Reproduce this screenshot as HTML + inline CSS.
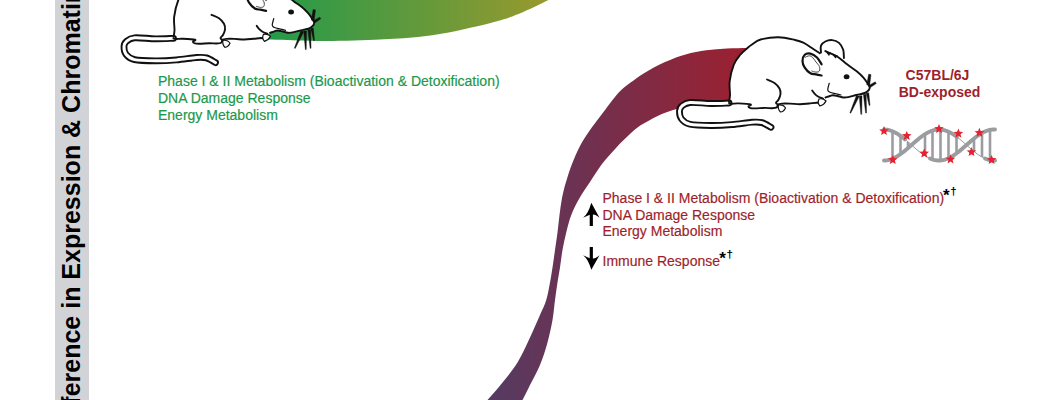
<!DOCTYPE html>
<html><head><meta charset="utf-8">
<style>
html,body{margin:0;padding:0;background:#fff;width:1045px;height:400px;overflow:hidden;}
svg{display:block;}
text{font-family:"Liberation Sans",sans-serif;}
</style></head><body>
<svg width="1045" height="400" viewBox="0 0 1045 400">
<defs>
<linearGradient id="gG" x1="270" y1="0" x2="548" y2="0" gradientUnits="userSpaceOnUse">
<stop offset="0" stop-color="#249a4a"/><stop offset="1" stop-color="#99992e"/>
</linearGradient>
<linearGradient id="gR" x1="490" y1="0" x2="745" y2="0" gradientUnits="userSpaceOnUse">
<stop offset="0" stop-color="#553b63"/><stop offset="1" stop-color="#9c2030"/>
</linearGradient>
</defs>
<rect x="55" y="0" width="34" height="400" fill="#d2d3d6"/>
<text transform="translate(79.5,438) rotate(-90)" font-size="25" font-weight="bold" fill="#000">Difference in Expression &amp; Chromatin</text>
<path d="M240.00 38.50 C245.25 38.68 258.60 39.18 271.50 39.60 C284.40 40.02 300.18 40.97 317.40 41.00 C334.62 41.03 355.65 40.77 374.80 39.80 C393.95 38.83 413.15 37.97 432.30 35.20 C451.45 32.43 475.35 26.73 489.70 23.20 C504.05 19.67 508.60 17.87 518.40 14.00 C528.20 10.13 542.23 3.17 548.50 0.00 C554.77 -3.17 554.75 -4.17 556.00 -5.00 L240 -5 Z" fill="url(#gG)"/>
<path d="M760.00 47.30 C757.92 47.42 753.02 47.80 747.50 48.00 C741.98 48.20 733.77 48.12 726.90 48.50 C720.03 48.88 713.18 49.32 706.30 50.30 C699.42 51.28 692.48 52.45 685.60 54.40 C678.72 56.35 671.87 58.90 665.00 62.00 C658.13 65.10 650.13 69.57 644.40 73.00 C638.67 76.43 634.46 79.77 630.60 82.60 C626.74 85.43 624.27 87.10 621.25 90.00 C618.23 92.90 615.21 96.67 612.50 100.00 C609.79 103.33 607.58 106.58 605.00 110.00 C602.42 113.42 599.67 116.92 597.00 120.50 C594.33 124.08 591.83 127.25 589.00 131.50 C586.17 135.75 582.83 140.58 580.00 146.00 C577.17 151.42 574.33 158.00 572.00 164.00 C569.67 170.00 567.67 176.33 566.00 182.00 C564.33 187.67 563.08 192.50 562.00 198.00 C560.92 203.50 560.25 209.25 559.50 215.00 C558.75 220.75 558.25 226.67 557.50 232.50 C556.75 238.33 555.83 244.17 555.00 250.00 C554.17 255.83 553.33 262.08 552.50 267.50 C551.67 272.92 551.04 277.08 550.00 282.50 C548.96 287.92 547.92 294.58 546.25 300.00 C544.58 305.42 542.71 308.75 540.00 315.00 C537.29 321.25 533.75 329.58 530.00 337.50 C526.25 345.42 522.08 355.00 517.50 362.50 C512.92 370.00 507.50 376.25 502.50 382.50 C497.50 388.75 492.08 395.08 487.50 400.00 C482.92 404.92 477.08 410.00 475.00 412.00 L515.00 412.00 C516.25 410.00 520.00 404.50 522.50 400.00 C525.00 395.50 527.08 390.83 530.00 385.00 C532.92 379.17 537.08 372.08 540.00 365.00 C542.92 357.92 545.42 350.00 547.50 342.50 C549.58 335.00 551.25 327.08 552.50 320.00 C553.75 312.92 554.17 306.25 555.00 300.00 C555.83 293.75 556.67 287.92 557.50 282.50 C558.33 277.08 559.17 272.92 560.00 267.50 C560.83 262.08 561.46 255.83 562.50 250.00 C563.54 244.17 564.79 238.33 566.25 232.50 C567.71 226.67 569.12 220.58 571.25 215.00 C573.38 209.42 575.88 204.50 579.00 199.00 C582.12 193.50 586.17 187.83 590.00 182.00 C593.83 176.17 597.67 169.67 602.00 164.00 C606.33 158.33 612.17 152.21 616.00 148.00 C619.83 143.79 621.42 142.17 625.00 138.75 C628.58 135.33 633.33 130.62 637.50 127.50 C641.67 124.38 645.83 122.29 650.00 120.00 C654.17 117.71 657.92 115.62 662.50 113.75 C667.08 111.88 671.25 110.38 677.50 108.75 C683.75 107.12 691.25 105.46 700.00 104.00 C708.75 102.54 720.00 100.67 730.00 100.00 C740.00 99.33 755.00 100.00 760.00 100.00 Z" fill="url(#gR)"/>
<g transform="translate(-555.5,-64.7)">
<path d="M729.00 101.50 C729.17 100.17 729.88 98.38 730.00 95.00 C730.12 91.62 729.07 86.29 729.70 81.25 C730.33 76.21 732.08 69.12 733.80 64.75 C735.52 60.38 737.72 57.79 740.00 55.00 C742.28 52.21 745.50 49.75 747.50 48.00 C749.50 46.25 749.82 45.92 752.00 44.50 C754.18 43.08 756.18 40.72 760.60 39.50 C765.02 38.28 772.77 37.12 778.50 37.20 C784.23 37.28 790.87 39.10 795.00 40.00 C799.13 40.90 800.55 41.32 803.30 42.60 C806.05 43.88 808.75 45.93 811.50 47.70 C814.25 49.47 818.05 52.40 819.80 53.20 C821.55 54.00 821.08 52.85 822.00 52.50 C822.92 52.15 822.92 50.52 825.30 51.10 C827.68 51.68 833.10 54.15 836.30 56.00 C839.50 57.85 842.22 60.43 844.50 62.20 C846.78 63.97 847.92 65.05 850.00 66.60 C852.08 68.15 854.77 69.67 857.00 71.50 C859.23 73.33 861.65 75.65 863.40 77.60 C865.15 79.55 866.47 81.63 867.50 83.20 C868.53 84.77 869.37 85.90 869.60 87.00 C869.83 88.10 869.71 88.80 868.90 89.80 C868.09 90.80 866.82 92.13 864.75 93.00 C862.68 93.87 859.25 94.32 856.50 95.00 C853.75 95.68 850.42 96.68 848.25 97.10 C846.08 97.52 845.29 97.68 843.50 97.50 C841.71 97.32 839.25 96.38 837.50 96.00 C835.75 95.62 834.25 95.25 833.00 95.25 C831.75 95.25 831.25 95.62 830.00 96.00 C828.75 96.38 826.83 96.17 825.50 97.50 C824.17 98.83 823.50 103.12 822.00 104.00 C820.50 104.88 818.67 102.83 816.50 102.75 C814.33 102.67 811.75 103.25 809.00 103.50 C806.25 103.75 803.17 104.23 800.00 104.25 C796.83 104.27 793.00 103.71 790.00 103.60 C787.00 103.49 784.00 103.45 782.00 103.60 C780.00 103.75 778.87 103.87 778.00 104.50 C777.13 105.13 777.80 106.78 776.80 107.40 C775.80 108.02 773.93 108.12 772.00 108.20 C770.07 108.28 768.00 107.87 765.20 107.90 C762.40 107.93 757.65 108.37 755.20 108.40 C752.75 108.43 751.63 108.43 750.50 108.10 C749.37 107.77 748.40 107.02 748.40 106.40 C748.40 105.78 752.17 104.90 750.50 104.40 C748.83 103.90 741.53 103.52 738.40 103.40 C735.27 103.28 733.27 103.77 731.70 103.70 C730.13 103.63 729.45 103.37 729.00 103.00 C728.55 102.63 728.83 102.83 729.00 101.50 Z" fill="#fff" stroke="none"/>
<path d="M729.00 103.00 C726.00 103.08 717.50 103.58 711.00 103.50 C704.50 103.42 694.83 102.08 690.00 102.50 C685.17 102.92 683.75 104.58 682.00 106.00 C680.25 107.42 679.58 108.83 679.50 111.00 C679.42 113.17 679.75 116.78 681.50 119.00 C683.25 121.22 685.08 123.22 690.00 124.30 C694.92 125.38 704.00 125.45 711.00 125.50 C718.00 125.55 725.17 125.15 732.00 124.60 C738.83 124.05 747.00 122.53 752.00 122.20 C757.00 121.87 758.83 121.75 762.00 122.60 C765.17 123.45 769.50 126.52 771.00 127.30" fill="none" stroke="#111" stroke-width="6.8" stroke-linecap="round"/>
<path d="M729.00 103.00 C726.00 103.08 717.50 103.58 711.00 103.50 C704.50 103.42 694.83 102.08 690.00 102.50 C685.17 102.92 683.75 104.58 682.00 106.00 C680.25 107.42 679.58 108.83 679.50 111.00 C679.42 113.17 679.75 116.78 681.50 119.00 C683.25 121.22 685.08 123.22 690.00 124.30 C694.92 125.38 704.00 125.45 711.00 125.50 C718.00 125.55 725.17 125.15 732.00 124.60 C738.83 124.05 747.00 122.53 752.00 122.20 C757.00 121.87 758.83 121.75 762.00 122.60 C765.17 123.45 769.50 126.52 771.00 127.30" fill="none" stroke="#fff" stroke-width="3.0" stroke-linecap="round"/>
<path d="M729.00 101.50 C729.17 100.42 729.88 98.38 730.00 95.00 C730.12 91.62 729.07 86.29 729.70 81.25 C730.33 76.21 732.08 69.12 733.80 64.75 C735.52 60.38 737.72 57.79 740.00 55.00 C742.28 52.21 745.50 49.75 747.50 48.00 C749.50 46.25 749.82 45.92 752.00 44.50 C754.18 43.08 756.18 40.72 760.60 39.50 C765.02 38.28 772.77 37.12 778.50 37.20 C784.23 37.28 790.87 39.10 795.00 40.00 C799.13 40.90 800.55 41.32 803.30 42.60 C806.05 43.88 808.75 45.93 811.50 47.70 C814.25 49.47 818.42 52.28 819.80 53.20" fill="none" stroke="#111" stroke-width="1.9" stroke-linecap="round" stroke-linejoin="round"/>
<path d="M821.00 52.50 C821.00 51.35 820.28 47.43 821.00 45.60 C821.72 43.77 823.43 42.42 825.30 41.50 C827.17 40.58 829.92 39.87 832.20 40.10 C834.48 40.33 837.17 41.29 839.00 42.90 C840.83 44.51 842.38 47.23 843.20 49.75 C844.02 52.27 843.78 56.62 843.90 58.00" fill="none" stroke="#111" stroke-width="1.9" stroke-linecap="round" stroke-linejoin="round"/>
<path d="M825.30 51.10 C827.13 51.92 833.10 54.15 836.30 56.00 C839.50 57.85 842.22 60.43 844.50 62.20 C846.78 63.97 847.92 65.05 850.00 66.60 C852.08 68.15 854.77 69.67 857.00 71.50 C859.23 73.33 861.65 75.65 863.40 77.60 C865.15 79.55 866.47 81.63 867.50 83.20 C868.53 84.77 869.37 85.90 869.60 87.00 C869.83 88.10 869.71 88.80 868.90 89.80 C868.09 90.80 866.82 92.13 864.75 93.00 C862.68 93.87 859.25 94.32 856.50 95.00 C853.75 95.68 850.42 96.68 848.25 97.10 C846.08 97.52 845.29 97.68 843.50 97.50 C841.71 97.32 839.25 96.38 837.50 96.00 C835.75 95.62 834.25 95.25 833.00 95.25 C831.75 95.25 831.25 95.62 830.00 96.00 C828.75 96.38 826.25 97.25 825.50 97.50" fill="none" stroke="#111" stroke-width="1.9" stroke-linecap="round" stroke-linejoin="round"/>
<path d="M821.60 64.25 C820.83 63.12 818.87 59.27 817.00 57.50 C815.13 55.73 812.44 54.07 810.40 53.60 C808.36 53.13 806.07 53.48 804.75 54.70 C803.43 55.92 802.50 58.75 802.50 60.90 C802.50 63.05 803.43 65.54 804.75 67.60 C806.07 69.66 808.52 72.12 810.40 73.25 C812.27 74.38 814.13 74.03 816.00 74.40 C817.87 74.78 820.67 75.32 821.60 75.50" fill="none" stroke="#111" stroke-width="2.2" stroke-linecap="round" stroke-linejoin="round"/>
<path d="M804.75 57.50 C805.50 57.22 807.94 55.80 809.25 55.80 C810.56 55.80 811.48 56.47 812.60 57.50 C813.73 58.53 814.87 60.50 816.00 62.00 C817.13 63.50 818.83 65.00 819.40 66.50 C819.97 68.00 819.97 70.07 819.40 71.00 C818.83 71.93 817.32 72.10 816.00 72.10 C814.68 72.10 812.25 71.18 811.50 71.00" fill="none" stroke="#333" stroke-width="0.9"/>
<path d="M829.25 83.25 C829.00 84.38 827.62 88.50 827.75 90.00 C827.88 91.50 828.62 91.62 830.00 92.25 C831.38 92.88 834.17 93.29 836.00 93.75 C837.83 94.21 840.17 94.79 841.00 95.00" fill="none" stroke="#111" stroke-width="1.2" stroke-linecap="round" stroke-linejoin="round"/>
<path d="M812.20 90.50 C812.58 91.02 813.53 92.60 814.50 93.60 C815.47 94.60 816.58 95.67 818.00 96.50 C819.42 97.33 822.17 98.25 823.00 98.60" fill="none" stroke="#111" stroke-width="1.9" stroke-linecap="round" stroke-linejoin="round"/>
<path d="M822.00 103.00 C821.08 102.96 818.67 102.67 816.50 102.75 C814.33 102.83 811.75 103.25 809.00 103.50 C806.25 103.75 803.17 104.23 800.00 104.25 C796.83 104.27 793.00 103.71 790.00 103.60 C787.00 103.49 784.00 103.45 782.00 103.60 C780.00 103.75 778.87 103.87 778.00 104.50 C777.13 105.13 777.80 106.78 776.80 107.40 C775.80 108.02 773.93 108.12 772.00 108.20 C770.07 108.28 768.00 107.87 765.20 107.90 C762.40 107.93 757.65 108.37 755.20 108.40 C752.75 108.43 751.63 108.43 750.50 108.10 C749.37 107.77 748.40 107.02 748.40 106.40 C748.40 105.78 752.17 104.90 750.50 104.40 C748.83 103.90 741.53 103.52 738.40 103.40 C735.27 103.28 733.27 103.77 731.70 103.70 C730.13 103.63 729.45 103.12 729.00 103.00" fill="none" stroke="#111" stroke-width="1.9" stroke-linecap="round" stroke-linejoin="round"/>
<path d="M767.00 79.50 C768.25 80.08 772.42 81.50 774.50 83.00 C776.58 84.50 778.50 86.67 779.50 88.50 C780.50 90.33 780.65 92.17 780.50 94.00 C780.35 95.83 779.35 98.03 778.60 99.50 C777.85 100.97 776.10 101.95 776.00 102.80 C775.90 103.65 777.67 104.30 778.00 104.60" fill="none" stroke="#111" stroke-width="1.9" stroke-linecap="round" stroke-linejoin="round"/>
<path d="M856.53 95.15 L849.89 112.82 L850.71 113.18 L859.27 96.35Z" fill="#111" stroke="#111" stroke-width="0.4" stroke-linejoin="round"/>
<path d="M859.20 95.80 L860.85 114.32 L861.75 114.28 L862.00 95.70Z" fill="#111" stroke="#111" stroke-width="0.4" stroke-linejoin="round"/>
<path d="M863.35 94.50 L865.65 113.03 L866.55 112.97 L866.15 94.30Z" fill="#111" stroke="#111" stroke-width="0.4" stroke-linejoin="round"/>
<path d="M866.22 93.22 L869.16 105.48 L870.04 105.32 L868.78 92.78Z" fill="#111" stroke="#111" stroke-width="0.4" stroke-linejoin="round"/>
<path d="M868.61 74.22 L866.72 84.78 L869.68 85.22 L870.99 74.58Z" fill="#111" stroke="#111" stroke-width="0.4" stroke-linejoin="round"/>
<path d="M875.22 81.85 L868.92 85.39 L870.28 87.61 L876.28 83.55Z" fill="#111" stroke="#111" stroke-width="0.4" stroke-linejoin="round"/>
<ellipse cx="846.6" cy="76.8" rx="2.9" ry="2.5" fill="#111"/>
<path d="M825 51 L831 52.5 L829 56 Z M831.5 53.8 L838 55.5 L835.5 58.5 Z" fill="#111"/>
<path d="M819 99 q4 -1 7 2 q-2 4 -6 5 q-3 -3 -1 -7z" fill="#fff" stroke="#111" stroke-width="1.2"/>
<path d="M778.5 105 q5 -0.5 7 3 q-2 4 -5 4 q-3 -3 -2 -7z" fill="#fff" stroke="#111" stroke-width="1.2"/>
</g>
<g>
<path d="M729.00 101.50 C729.17 100.17 729.88 98.38 730.00 95.00 C730.12 91.62 729.07 86.29 729.70 81.25 C730.33 76.21 732.08 69.12 733.80 64.75 C735.52 60.38 737.72 57.79 740.00 55.00 C742.28 52.21 745.50 49.75 747.50 48.00 C749.50 46.25 749.82 45.92 752.00 44.50 C754.18 43.08 756.18 40.72 760.60 39.50 C765.02 38.28 772.77 37.12 778.50 37.20 C784.23 37.28 790.87 39.10 795.00 40.00 C799.13 40.90 800.55 41.32 803.30 42.60 C806.05 43.88 808.75 45.93 811.50 47.70 C814.25 49.47 818.05 52.40 819.80 53.20 C821.55 54.00 821.08 52.85 822.00 52.50 C822.92 52.15 822.92 50.52 825.30 51.10 C827.68 51.68 833.10 54.15 836.30 56.00 C839.50 57.85 842.22 60.43 844.50 62.20 C846.78 63.97 847.92 65.05 850.00 66.60 C852.08 68.15 854.77 69.67 857.00 71.50 C859.23 73.33 861.65 75.65 863.40 77.60 C865.15 79.55 866.47 81.63 867.50 83.20 C868.53 84.77 869.37 85.90 869.60 87.00 C869.83 88.10 869.71 88.80 868.90 89.80 C868.09 90.80 866.82 92.13 864.75 93.00 C862.68 93.87 859.25 94.32 856.50 95.00 C853.75 95.68 850.42 96.68 848.25 97.10 C846.08 97.52 845.29 97.68 843.50 97.50 C841.71 97.32 839.25 96.38 837.50 96.00 C835.75 95.62 834.25 95.25 833.00 95.25 C831.75 95.25 831.25 95.62 830.00 96.00 C828.75 96.38 826.83 96.17 825.50 97.50 C824.17 98.83 823.50 103.12 822.00 104.00 C820.50 104.88 818.67 102.83 816.50 102.75 C814.33 102.67 811.75 103.25 809.00 103.50 C806.25 103.75 803.17 104.23 800.00 104.25 C796.83 104.27 793.00 103.71 790.00 103.60 C787.00 103.49 784.00 103.45 782.00 103.60 C780.00 103.75 778.87 103.87 778.00 104.50 C777.13 105.13 777.80 106.78 776.80 107.40 C775.80 108.02 773.93 108.12 772.00 108.20 C770.07 108.28 768.00 107.87 765.20 107.90 C762.40 107.93 757.65 108.37 755.20 108.40 C752.75 108.43 751.63 108.43 750.50 108.10 C749.37 107.77 748.40 107.02 748.40 106.40 C748.40 105.78 752.17 104.90 750.50 104.40 C748.83 103.90 741.53 103.52 738.40 103.40 C735.27 103.28 733.27 103.77 731.70 103.70 C730.13 103.63 729.45 103.37 729.00 103.00 C728.55 102.63 728.83 102.83 729.00 101.50 Z" fill="#fff" stroke="none"/>
<path d="M729.00 103.00 C726.00 103.08 717.50 103.58 711.00 103.50 C704.50 103.42 694.83 102.08 690.00 102.50 C685.17 102.92 683.75 104.58 682.00 106.00 C680.25 107.42 679.58 108.83 679.50 111.00 C679.42 113.17 679.75 116.78 681.50 119.00 C683.25 121.22 685.08 123.22 690.00 124.30 C694.92 125.38 704.00 125.45 711.00 125.50 C718.00 125.55 725.17 125.15 732.00 124.60 C738.83 124.05 747.00 122.53 752.00 122.20 C757.00 121.87 758.83 121.75 762.00 122.60 C765.17 123.45 769.50 126.52 771.00 127.30" fill="none" stroke="#111" stroke-width="6.8" stroke-linecap="round"/>
<path d="M729.00 103.00 C726.00 103.08 717.50 103.58 711.00 103.50 C704.50 103.42 694.83 102.08 690.00 102.50 C685.17 102.92 683.75 104.58 682.00 106.00 C680.25 107.42 679.58 108.83 679.50 111.00 C679.42 113.17 679.75 116.78 681.50 119.00 C683.25 121.22 685.08 123.22 690.00 124.30 C694.92 125.38 704.00 125.45 711.00 125.50 C718.00 125.55 725.17 125.15 732.00 124.60 C738.83 124.05 747.00 122.53 752.00 122.20 C757.00 121.87 758.83 121.75 762.00 122.60 C765.17 123.45 769.50 126.52 771.00 127.30" fill="none" stroke="#fff" stroke-width="3.0" stroke-linecap="round"/>
<path d="M729.00 101.50 C729.17 100.42 729.88 98.38 730.00 95.00 C730.12 91.62 729.07 86.29 729.70 81.25 C730.33 76.21 732.08 69.12 733.80 64.75 C735.52 60.38 737.72 57.79 740.00 55.00 C742.28 52.21 745.50 49.75 747.50 48.00 C749.50 46.25 749.82 45.92 752.00 44.50 C754.18 43.08 756.18 40.72 760.60 39.50 C765.02 38.28 772.77 37.12 778.50 37.20 C784.23 37.28 790.87 39.10 795.00 40.00 C799.13 40.90 800.55 41.32 803.30 42.60 C806.05 43.88 808.75 45.93 811.50 47.70 C814.25 49.47 818.42 52.28 819.80 53.20" fill="none" stroke="#111" stroke-width="1.9" stroke-linecap="round" stroke-linejoin="round"/>
<path d="M821.00 52.50 C821.00 51.35 820.28 47.43 821.00 45.60 C821.72 43.77 823.43 42.42 825.30 41.50 C827.17 40.58 829.92 39.87 832.20 40.10 C834.48 40.33 837.17 41.29 839.00 42.90 C840.83 44.51 842.38 47.23 843.20 49.75 C844.02 52.27 843.78 56.62 843.90 58.00" fill="none" stroke="#111" stroke-width="1.9" stroke-linecap="round" stroke-linejoin="round"/>
<path d="M825.30 51.10 C827.13 51.92 833.10 54.15 836.30 56.00 C839.50 57.85 842.22 60.43 844.50 62.20 C846.78 63.97 847.92 65.05 850.00 66.60 C852.08 68.15 854.77 69.67 857.00 71.50 C859.23 73.33 861.65 75.65 863.40 77.60 C865.15 79.55 866.47 81.63 867.50 83.20 C868.53 84.77 869.37 85.90 869.60 87.00 C869.83 88.10 869.71 88.80 868.90 89.80 C868.09 90.80 866.82 92.13 864.75 93.00 C862.68 93.87 859.25 94.32 856.50 95.00 C853.75 95.68 850.42 96.68 848.25 97.10 C846.08 97.52 845.29 97.68 843.50 97.50 C841.71 97.32 839.25 96.38 837.50 96.00 C835.75 95.62 834.25 95.25 833.00 95.25 C831.75 95.25 831.25 95.62 830.00 96.00 C828.75 96.38 826.25 97.25 825.50 97.50" fill="none" stroke="#111" stroke-width="1.9" stroke-linecap="round" stroke-linejoin="round"/>
<path d="M821.60 64.25 C820.83 63.12 818.87 59.27 817.00 57.50 C815.13 55.73 812.44 54.07 810.40 53.60 C808.36 53.13 806.07 53.48 804.75 54.70 C803.43 55.92 802.50 58.75 802.50 60.90 C802.50 63.05 803.43 65.54 804.75 67.60 C806.07 69.66 808.52 72.12 810.40 73.25 C812.27 74.38 814.13 74.03 816.00 74.40 C817.87 74.78 820.67 75.32 821.60 75.50" fill="none" stroke="#111" stroke-width="2.2" stroke-linecap="round" stroke-linejoin="round"/>
<path d="M804.75 57.50 C805.50 57.22 807.94 55.80 809.25 55.80 C810.56 55.80 811.48 56.47 812.60 57.50 C813.73 58.53 814.87 60.50 816.00 62.00 C817.13 63.50 818.83 65.00 819.40 66.50 C819.97 68.00 819.97 70.07 819.40 71.00 C818.83 71.93 817.32 72.10 816.00 72.10 C814.68 72.10 812.25 71.18 811.50 71.00" fill="none" stroke="#333" stroke-width="0.9"/>
<path d="M829.25 83.25 C829.00 84.38 827.62 88.50 827.75 90.00 C827.88 91.50 828.62 91.62 830.00 92.25 C831.38 92.88 834.17 93.29 836.00 93.75 C837.83 94.21 840.17 94.79 841.00 95.00" fill="none" stroke="#111" stroke-width="1.2" stroke-linecap="round" stroke-linejoin="round"/>
<path d="M812.20 90.50 C812.58 91.02 813.53 92.60 814.50 93.60 C815.47 94.60 816.58 95.67 818.00 96.50 C819.42 97.33 822.17 98.25 823.00 98.60" fill="none" stroke="#111" stroke-width="1.9" stroke-linecap="round" stroke-linejoin="round"/>
<path d="M822.00 103.00 C821.08 102.96 818.67 102.67 816.50 102.75 C814.33 102.83 811.75 103.25 809.00 103.50 C806.25 103.75 803.17 104.23 800.00 104.25 C796.83 104.27 793.00 103.71 790.00 103.60 C787.00 103.49 784.00 103.45 782.00 103.60 C780.00 103.75 778.87 103.87 778.00 104.50 C777.13 105.13 777.80 106.78 776.80 107.40 C775.80 108.02 773.93 108.12 772.00 108.20 C770.07 108.28 768.00 107.87 765.20 107.90 C762.40 107.93 757.65 108.37 755.20 108.40 C752.75 108.43 751.63 108.43 750.50 108.10 C749.37 107.77 748.40 107.02 748.40 106.40 C748.40 105.78 752.17 104.90 750.50 104.40 C748.83 103.90 741.53 103.52 738.40 103.40 C735.27 103.28 733.27 103.77 731.70 103.70 C730.13 103.63 729.45 103.12 729.00 103.00" fill="none" stroke="#111" stroke-width="1.9" stroke-linecap="round" stroke-linejoin="round"/>
<path d="M767.00 79.50 C768.25 80.08 772.42 81.50 774.50 83.00 C776.58 84.50 778.50 86.67 779.50 88.50 C780.50 90.33 780.65 92.17 780.50 94.00 C780.35 95.83 779.35 98.03 778.60 99.50 C777.85 100.97 776.10 101.95 776.00 102.80 C775.90 103.65 777.67 104.30 778.00 104.60" fill="none" stroke="#111" stroke-width="1.9" stroke-linecap="round" stroke-linejoin="round"/>
<path d="M856.53 95.15 L849.89 112.82 L850.71 113.18 L859.27 96.35Z" fill="#111" stroke="#111" stroke-width="0.4" stroke-linejoin="round"/>
<path d="M859.20 95.80 L860.85 114.32 L861.75 114.28 L862.00 95.70Z" fill="#111" stroke="#111" stroke-width="0.4" stroke-linejoin="round"/>
<path d="M863.35 94.50 L865.65 113.03 L866.55 112.97 L866.15 94.30Z" fill="#111" stroke="#111" stroke-width="0.4" stroke-linejoin="round"/>
<path d="M866.22 93.22 L869.16 105.48 L870.04 105.32 L868.78 92.78Z" fill="#111" stroke="#111" stroke-width="0.4" stroke-linejoin="round"/>
<path d="M868.61 74.22 L866.72 84.78 L869.68 85.22 L870.99 74.58Z" fill="#111" stroke="#111" stroke-width="0.4" stroke-linejoin="round"/>
<path d="M875.22 81.85 L868.92 85.39 L870.28 87.61 L876.28 83.55Z" fill="#111" stroke="#111" stroke-width="0.4" stroke-linejoin="round"/>
<ellipse cx="846.6" cy="76.8" rx="2.9" ry="2.5" fill="#111"/>
<path d="M825 51 L831 52.5 L829 56 Z M831.5 53.8 L838 55.5 L835.5 58.5 Z" fill="#111"/>
<path d="M819 99 q4 -1 7 2 q-2 4 -6 5 q-3 -3 -1 -7z" fill="#fff" stroke="#111" stroke-width="1.2"/>
<path d="M778.5 105 q5 -0.5 7 3 q-2 4 -5 4 q-3 -3 -2 -7z" fill="#fff" stroke="#111" stroke-width="1.2"/>
</g>
<g font-size="14" fill="#1b984a" stroke="#1b984a" stroke-width="0.18">
<text x="158" y="85.5">Phase I &amp; II Metabolism (Bioactivation &amp; Detoxification)</text>
<text x="158" y="102.8">DNA Damage Response</text>
<text x="158" y="119.8">Energy Metabolism</text>
</g>
<g font-size="14" fill="#9e1f2c" stroke="#9e1f2c" stroke-width="0.18">
<text x="602.5" y="202.5">Phase I &amp; II Metabolism (Bioactivation &amp; Detoxification)</text>
<text x="602.5" y="219.9">DNA Damage Response</text>
<text x="602.5" y="235.6">Energy Metabolism</text>
<text x="602.5" y="265.6">Immune Response</text>
</g>
<g fill="#000">
<text x="943" y="200.6" font-size="17" font-weight="bold">*</text>
<text x="950.3" y="195.2" font-size="11.5" font-weight="bold">†</text>
<text x="719.2" y="263.5" font-size="17" font-weight="bold">*</text>
<text x="726.6" y="258" font-size="11.5" font-weight="bold">†</text>
</g>
<path d="M591.3 202.7 L599.5 217.7 Q594.3 213.7 592.9 214.7 L592.9 226.1 L589.7 226.1 L589.7 214.7 L583.1 217.7 Q588.3 213.7 591.3 202.7Z" fill="#000"/>
<path d="M591.3 269.8 L599.5 255.2 Q594.3 259.2 592.9 258.2 L592.9 247.1 L589.7 247.1 L589.7 258.2 L583.1 255.2 Q588.3 259.2 591.3 269.8Z" fill="#000"/>
<g font-size="14" font-weight="bold" fill="#9e1f2c" text-anchor="middle">
<text x="937.5" y="80.4">C57BL/6J</text>
<text x="939.5" y="96.6">BD-exposed</text>
</g>
<line x1="892.5" y1="131.3" x2="892.5" y2="158.7" stroke="#9b9ca0" stroke-width="2.6"/>
<line x1="900.5" y1="135.9" x2="900.5" y2="154.1" stroke="#9b9ca0" stroke-width="2.6"/>
<line x1="908.0" y1="141.9" x2="908.0" y2="148.1" stroke="#9b9ca0" stroke-width="2.6"/>
<line x1="925.0" y1="134.2" x2="925.0" y2="155.8" stroke="#9b9ca0" stroke-width="2.6"/>
<line x1="932.5" y1="130.6" x2="932.5" y2="159.4" stroke="#9b9ca0" stroke-width="2.6"/>
<line x1="940.5" y1="129.6" x2="940.5" y2="160.4" stroke="#9b9ca0" stroke-width="2.6"/>
<line x1="948.5" y1="131.7" x2="948.5" y2="158.3" stroke="#9b9ca0" stroke-width="2.6"/>
<line x1="956.5" y1="136.6" x2="956.5" y2="153.4" stroke="#9b9ca0" stroke-width="2.6"/>
<line x1="974.0" y1="138.6" x2="974.0" y2="151.4" stroke="#9b9ca0" stroke-width="2.6"/>
<line x1="982.0" y1="133.0" x2="982.0" y2="157.0" stroke="#9b9ca0" stroke-width="2.6"/>
<line x1="990.0" y1="129.9" x2="990.0" y2="160.1" stroke="#9b9ca0" stroke-width="2.6"/>
<path d="M905.00 139.38 L906.00 140.21 L907.00 141.06 L908.00 141.92 L909.00 142.79 L910.00 143.67 L911.00 144.56 L912.00 145.44 L913.00 146.33 L914.00 147.21 L915.00 148.08 L916.00 148.94 L917.00 149.79 L918.00 150.62 L919.00 151.44 L920.00 152.23 L921.00 153.00 L922.00 153.75 L923.00 154.47 L924.00 155.15 L925.00 155.80 L926.00 156.42 L927.00 157.00 L928.00 157.54 L929.00 158.04 L930.00 158.50" fill="none" stroke="#9b9ca0" stroke-width="1"/>
<path d="M957.00 137.00 L958.00 137.77 L959.00 138.56 L960.00 139.38 L961.00 140.21 L962.00 141.06 L963.00 141.92 L964.00 142.79 L965.00 143.67 L966.00 144.56 L967.00 145.44 L968.00 146.33 L969.00 147.21 L970.00 148.08 L971.00 148.94 L972.00 149.79 L973.00 150.62 L974.00 151.44 L975.00 152.23 L976.00 153.00 L977.00 153.75 L978.00 154.47 L979.00 155.15 L980.00 155.80 L981.00 156.42 L982.00 157.00 L983.00 157.54 L984.00 158.04 L985.00 158.50" fill="none" stroke="#9b9ca0" stroke-width="1"/>
<path d="M884.00 129.50 L885.00 129.53 L886.00 129.60 L887.00 129.73 L888.00 129.90 L889.00 130.13 L890.00 130.40 L891.00 130.72 L892.00 131.09 L893.00 131.50 L894.00 131.96 L895.00 132.46 L896.00 133.00 L897.00 133.58 L898.00 134.20 L899.00 134.85 L900.00 135.53 L901.00 136.25 L902.00 137.00 L903.00 137.77 L904.00 138.56 L905.00 139.38" fill="none" stroke="#9b9ca0" stroke-width="3.9" stroke-linecap="round"/>
<path d="M884.00 160.50 L885.00 160.47 L886.00 160.40 L887.00 160.27 L888.00 160.10 L889.00 159.87 L890.00 159.60 L891.00 159.28 L892.00 158.91 L893.00 158.50 L894.00 158.04 L895.00 157.54 L896.00 157.00 L897.00 156.42 L898.00 155.80 L899.00 155.15 L900.00 154.47 L901.00 153.75 L902.00 153.00 L903.00 152.23 L904.00 151.44 L905.00 150.62 L906.00 149.79 L907.00 148.94 L908.00 148.08 L909.00 147.21 L910.00 146.33 L911.00 145.44 L912.00 144.56 L913.00 143.67 L914.00 142.79 L915.00 141.92 L916.00 141.06 L917.00 140.21 L918.00 139.38 L919.00 138.56 L920.00 137.77 L921.00 137.00 L922.00 136.25 L923.00 135.53 L924.00 134.85 L925.00 134.20 L926.00 133.58 L927.00 133.00 L928.00 132.46 L929.00 131.96 L930.00 131.50 L931.00 131.09 L932.00 130.72 L933.00 130.40 L934.00 130.13 L935.00 129.90 L936.00 129.73 L937.00 129.60 L938.00 129.53 L939.00 129.50 L940.00 129.53 L941.00 129.60 L942.00 129.73 L943.00 129.90 L944.00 130.13 L945.00 130.40 L946.00 130.72 L947.00 131.09 L948.00 131.50 L949.00 131.96 L950.00 132.46 L951.00 133.00 L952.00 133.58 L953.00 134.20 L954.00 134.85 L955.00 135.53 L956.00 136.25 L957.00 137.00" fill="none" stroke="#9b9ca0" stroke-width="3.9" stroke-linecap="round"/>
<path d="M930.00 158.50 L931.00 158.91 L932.00 159.28 L933.00 159.60 L934.00 159.87 L935.00 160.10 L936.00 160.27 L937.00 160.40 L938.00 160.47 L939.00 160.50 L940.00 160.47 L941.00 160.40 L942.00 160.27 L943.00 160.10 L944.00 159.87 L945.00 159.60 L946.00 159.28 L947.00 158.91 L948.00 158.50 L949.00 158.04 L950.00 157.54 L951.00 157.00 L952.00 156.42 L953.00 155.80 L954.00 155.15 L955.00 154.47 L956.00 153.75 L957.00 153.00 L958.00 152.23 L959.00 151.44 L960.00 150.62 L961.00 149.79 L962.00 148.94 L963.00 148.08 L964.00 147.21 L965.00 146.33 L966.00 145.44 L967.00 144.56 L968.00 143.67 L969.00 142.79 L970.00 141.92 L971.00 141.06 L972.00 140.21 L973.00 139.38 L974.00 138.56 L975.00 137.77 L976.00 137.00 L977.00 136.25 L978.00 135.53 L979.00 134.85 L980.00 134.20 L981.00 133.58 L982.00 133.00 L983.00 132.46 L984.00 131.96 L985.00 131.50 L986.00 131.09 L987.00 130.72 L988.00 130.40 L989.00 130.13 L990.00 129.90 L991.00 129.73 L992.00 129.60 L993.00 129.53 L994.00 129.50 L995.00 129.53" fill="none" stroke="#9b9ca0" stroke-width="3.9" stroke-linecap="round"/>
<path d="M985.00 158.50 L986.00 158.91 L987.00 159.28 L988.00 159.60 L989.00 159.87 L990.00 160.10 L991.00 160.27 L992.00 160.40 L993.00 160.47 L994.00 160.50 L995.00 160.47" fill="none" stroke="#9b9ca0" stroke-width="3.9" stroke-linecap="round"/>
<path d="M884.00 126.00 L885.32 129.18 L888.76 129.45 L886.14 131.70 L886.94 135.05 L884.00 133.25 L881.06 135.05 L881.86 131.70 L879.24 129.45 L882.68 129.18Z" fill="#e52230"/>
<path d="M892.75 154.90 L894.07 158.08 L897.51 158.35 L894.89 160.60 L895.69 163.95 L892.75 162.15 L889.81 163.95 L890.61 160.60 L887.99 158.35 L891.43 158.08Z" fill="#e52230"/>
<path d="M906.75 130.90 L908.07 134.08 L911.51 134.35 L908.89 136.60 L909.69 139.95 L906.75 138.15 L903.81 139.95 L904.61 136.60 L901.99 134.35 L905.43 134.08Z" fill="#e52230"/>
<path d="M924.25 148.40 L925.57 151.58 L929.01 151.85 L926.39 154.10 L927.19 157.45 L924.25 155.65 L921.31 157.45 L922.11 154.10 L919.49 151.85 L922.93 151.58Z" fill="#e52230"/>
<path d="M939.00 123.90 L940.32 127.08 L943.76 127.35 L941.14 129.60 L941.94 132.95 L939.00 131.15 L936.06 132.95 L936.86 129.60 L934.24 127.35 L937.68 127.08Z" fill="#e52230"/>
<path d="M950.50 154.35 L951.82 157.53 L955.26 157.80 L952.64 160.05 L953.44 163.40 L950.50 161.60 L947.56 163.40 L948.36 160.05 L945.74 157.80 L949.18 157.53Z" fill="#e52230"/>
<path d="M958.40 128.60 L959.72 131.78 L963.16 132.05 L960.54 134.30 L961.34 137.65 L958.40 135.85 L955.46 137.65 L956.26 134.30 L953.64 132.05 L957.08 131.78Z" fill="#e52230"/>
<path d="M971.50 147.00 L972.82 150.18 L976.26 150.45 L973.64 152.70 L974.44 156.05 L971.50 154.25 L968.56 156.05 L969.36 152.70 L966.74 150.45 L970.18 150.18Z" fill="#e52230"/>
<path d="M979.40 127.75 L980.72 130.93 L984.16 131.20 L981.54 133.45 L982.34 136.80 L979.40 135.00 L976.46 136.80 L977.26 133.45 L974.64 131.20 L978.08 130.93Z" fill="#e52230"/>
<path d="M991.60 154.90 L992.92 158.08 L996.36 158.35 L993.74 160.60 L994.54 163.95 L991.60 162.15 L988.66 163.95 L989.46 160.60 L986.84 158.35 L990.28 158.08Z" fill="#e52230"/>
</svg>
</body></html>
